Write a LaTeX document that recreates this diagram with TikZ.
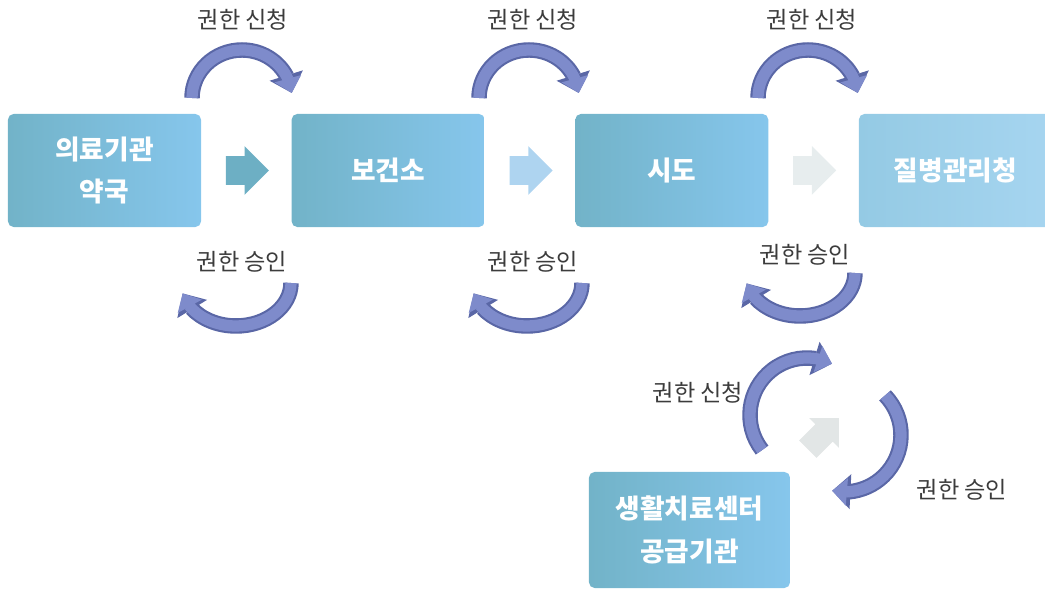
\documentclass[tikz,border=0pt]{standalone}
\usepackage{fontspec}
\setmainfont{Noto Sans CJK KR}
\usepackage{tikz}
\usetikzlibrary{arrows.meta, bending, calc, positioning, shapes.arrows}
\definecolor{boxteal}{HTML}{72B3C8}
\definecolor{boxblue}{HTML}{86C6EC}
\definecolor{boxpale}{HTML}{94CAE4}
\definecolor{boxpaler}{HTML}{A6D5F0}
\definecolor{swingfill}{HTML}{7E8BCB}
\definecolor{swingdark}{HTML}{5A67A6}
\definecolor{lblgrey}{HTML}{3C3C3C}
\newcommand{\swingarc}[1]{\draw[swingedge] #1; \draw[swing] #1;}

\begin{document}
\begin{tikzpicture}[x=0.025cm, y=0.025cm,
	box/.style={rounded corners=4pt, minimum width=4.825cm, minimum height=2.825cm, text=white,
		font=\fontsize{19}{30}\selectfont\bfseries, align=center, left color=boxteal, right color=boxblue},
	lbl/.style={text=lblgrey, font=\fontsize{16.5}{18}\selectfont},
	blk/.style={single arrow, inner xsep=0pt, inner ysep=0.35cm, minimum height=1.075cm, minimum width=1.2cm,
		single arrow head extend=0.25cm, single arrow head indent=0pt, xshift=-0.15cm},
	swingedge/.style={draw=swingdark, line width=11pt, -{Triangle[width=24pt, length=13pt]}},
	swing/.style={draw=swingfill, line width=8pt, -{Triangle[width=19pt, length=10.5pt]}},
	node distance=2.25cm]
				\useasboundingbox (0,0) rectangle (1045,589);
				
				% Boxes
				\node[box] (clinic) at (104.5,418.5) {의료기관\\약국};
				\node[box, right=of clinic] (center) {보건소};
				\node[box, right=of center] (city) {시도};
				\node[box, right=of city, left color=boxpale, right color=boxpaler] (kdca) {질병관리청};
				\node[box, minimum width=5.025cm, minimum height=2.9cm] (supply) at (689.5,59) {생활치료센터\\공급기관};
				
				% Block arrows
				\node[blk, fill={rgb,255:red,109;green,175;blue,196}] (go1) at ($(clinic.east)!0.5!(center.west)$) {};
				\node[blk, fill={rgb,255:red,174;green,212;blue,240}] (go2) at ($(center.east)!0.5!(city.west)$) {};
				\node[blk, fill={rgb,255:red,231;green,237;blue,238}] (go3) at ($(city.east)!0.5!(kdca.west)$) {};
				\node[blk, xshift=0pt, rotate=45, minimum height=1.1cm, inner ysep=0.3cm, minimum width=1.05cm, single arrow head extend=0.22cm,
					fill={rgb,255:red,226;green,230;blue,230}] (go4) at (825,151) {};
				
				% Request arcs
				\foreach \cx/\lx [count=\i] in {242/243, 529/533, 808/812}
				{
					\node[lbl] (ask\i) at (\lx,569) {권한 신청};
					\swingarc{(\cx-50,491) arc[start angle=180, end angle=6, x radius=50, y radius=48]}
				}
				
				% Approval arcs
				\foreach \cx/\cy/\lx/\ly [count=\i] in {236/306/242/327, 527/306/533/327, 800/316/805/334}
				{
					\node[lbl] (grant\i) at (\lx,\ly) {권한 승인};
					\swingarc{(\cx+55,\cy) arc[start angle=0, end angle=-166, x radius=55, y radius=43]}
				}
				
				% Supply loop
				\node[lbl] (ask4) at (698,196) {권한 신청};
				\node[lbl] (grant4) at (962,99) {권한 승인};
				\swingarc{($(807,174)+(218:57)$) arc[start angle=218, end angle=64, radius=57]}
				\swingarc{($(844,154)+(44:57)$) arc[start angle=44, end angle=-102, radius=57]}
				
			\end{tikzpicture}
\end{document}
